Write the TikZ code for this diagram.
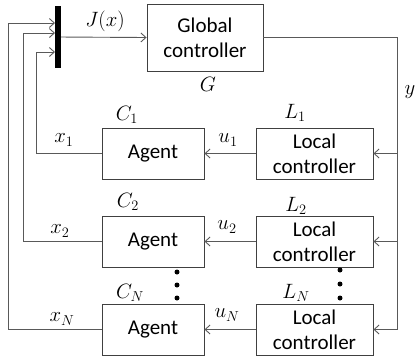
\documentclass[tikz,border=0pt]{standalone}
\usepackage{fontspec}
\setmainfont{Carlito}
\usetikzlibrary{arrows.meta}
\begin{document}
\begin{tikzpicture}[x=1pt,y=-1pt,
  box/.style={draw=black!75, line width=0.9pt, minimum height=51pt, inner sep=0pt, align=center, font=\fontsize{21}{25}\selectfont},
  agentbox/.style={box, minimum width=102pt},
  localbox/.style={box, minimum width=117pt},
  ln/.style={draw=black!65, line width=0.9pt},
  arr/.style={ln, -{Straight Barb[length=5pt,width=9pt]}},
  lbl/.style={font=\fontsize{21}{25}\selectfont, inner sep=0pt},
  dot/.style={circle, fill=black, minimum size=5pt, inner sep=0pt}]
\useasboundingbox (0,0) rectangle (416,360);
% global controller and summing bar
\node[box, minimum width=116pt, minimum height=67pt] (glob) at (205,37.5) {Global\\controller};
\node[fill=black, minimum width=6pt, minimum height=62pt, inner sep=0pt] (bar) at (58,37) {};
\coordinate (b1) at (55,52);
\coordinate (b2) at (55,33);
\coordinate (bN) at (55,23);
% agents and local controllers
\node[agentbox] (a1) at (153,153.5) {Agent};
\node[agentbox] (a2) at (153,241.5) {Agent};
\node[agentbox] (aN) at (153,329.5) {Agent};
\node[localbox] (l1) at (314.5,153.5) {Local\\controller};
\node[localbox] (l2) at (314.5,241.5) {Local\\controller};
\node[localbox] (lN) at (314.5,329.5) {Local\\controller};
% feedback corners
\coordinate (c1) at (36,153.5);
\coordinate (c2) at (23,241.5);
\coordinate (cN) at (8,329.5);
% y bus
\coordinate (ytop) at (397,37.5);
\coordinate (y1) at (397,153.5);
\coordinate (y2) at (397,241.5);
\coordinate (yN) at (397,329.5);
% connectors
\draw[arr] (bar) -- (glob.west);
\draw[ln] (glob.east) -- (ytop) -- (yN);
\draw[arr] (y1) -- (l1.east);
\draw[arr] (y2) -- (l2.east);
\draw[arr] (yN) -- (lN.east);
\draw[arr] (l1.west) -- (a1.east);
\draw[arr] (l2.west) -- (a2.east);
\draw[arr] (lN.west) -- (aN.east);
\draw[arr] (a1.west) -- (c1) |- (b1);
\draw[arr] (a2.west) -- (c2) |- (b2);
\draw[arr] (aN.west) -- (cN) |- (bN);
% labels
\node[lbl] (lJ) at (105,21) {$J(x)$};
\node[lbl] (lG) at (208,84) {$G$};
\node[lbl] (ly) at (410,92) {$y$};
\node[lbl] (lC1) at (127,115) {$C_1$};
\node[lbl] (lC2) at (128,202) {$C_2$};
\node[lbl] (lCN) at (130,293) {$C_N$};
\node[lbl] (lL1) at (295,113) {$L_1$};
\node[lbl] (lL2) at (296,206) {$L_2$};
\node[lbl] (lLN) at (296,293) {$L_N$};
\node[lbl] (lx1) at (64,140) {$x_1$};
\node[lbl] (lx2) at (60,231) {$x_2$};
\node[lbl] (lxN) at (62,319) {$x_N$};
\node[lbl] (lu1) at (228,140) {$u_1$};
\node[lbl] (lu2) at (227,227) {$u_2$};
\node[lbl] (luN) at (227,315) {$u_N$};
% ellipsis dots
\node[dot] (d1) at (177,272) {};
\node[dot] (d2) at (177,285) {};
\node[dot] (d3) at (177,298) {};
\node[dot] (e1) at (340,270) {};
\node[dot] (e2) at (340,284) {};
\node[dot] (e3) at (340,298) {};
\end{tikzpicture}
\end{document}
